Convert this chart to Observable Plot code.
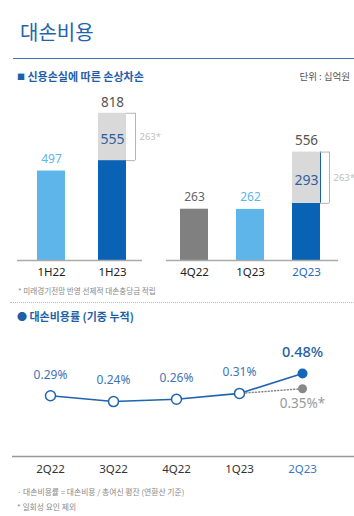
<!DOCTYPE html>
<html>
<head>
<meta charset="utf-8">
<script src="https://cdn.jsdelivr.net/npm/d3@7"></script>
<script src="https://cdn.jsdelivr.net/npm/@observablehq/plot@0.6"></script>
<style>
  html, body { margin: 0; padding: 0; background: #fff; }
  #root { position: relative; width: 354px; height: 516px; overflow: hidden; font-family: "Noto Sans CJK KR", "Noto Sans", sans-serif; }
  .abs { position: absolute; white-space: nowrap; }
  svg { overflow: visible; }
</style>
</head>
<body>
<div id="root">
  <div class="abs" style="left:20px; top:20px; font-size:20px; line-height:24px; color:#1f63ae;">대손비용</div>
  <div class="abs" style="left:13px; top:58px; width:341px; height:1px; background:#3a76bb;"></div>
  <div class="abs" style="left:17px; top:69px; font-size:11px; line-height:14px; font-weight:700; color:#1f5fa8;"><span style="font-size:8px; vertical-align:1px;">■</span> 신용손실에 따른 손상차손</div>
  <div class="abs" style="right:4px; top:70px; font-size:9.5px; line-height:12px; color:#555;">단위 : 십억원</div>
  <div class="abs" style="left:18px; top:286px; font-size:7.6px; line-height:10px; color:#888;">* 미래경기전망 반영 선제적 대손충당금 적립</div>
  <div class="abs" style="left:10px; top:302px; width:344px; height:0; border-top:1px dotted #bbb;"></div>
  <div class="abs" style="left:17px; top:309px; font-size:11px; line-height:14px; font-weight:700; color:#1f5fa8;"><span style="font-size:10px;">●</span> 대손비용률 (기중 누적)</div>
  <div class="abs" style="left:17px; top:487px; font-size:7.8px; line-height:10px; color:#888;">· 대손비용률 = 대손비용 / 총여신 평잔 (연환산 기준)</div>
  <div class="abs" style="left:17px; top:502px; font-size:7.8px; line-height:10px; color:#888;">* 일회성 요인 제외</div>
  <div id="barsL" class="abs" style="left:0px; top:89px;"></div>
  <div id="barsR" class="abs" style="left:155px; top:89px;"></div>
  <div id="line" class="abs" style="left:0px; top:330px;"></div>
</div>
<script>
// ---- data ----
const halfCats = ["1H22", "1H23"];
const halfBase = [497, 555];
const halfExtra = [0, 263];
const qCats = ["4Q22", "1Q23", "2Q23"];
const qBase = [263, 262, 293];
const qExtra = [0, 0, 263];
const rateCats = ["2Q22", "3Q22", "4Q22", "1Q23", "2Q23"];
const rateValues = [0.29, 0.24, 0.26, 0.31, 0.48];
const rateAdjusted = 0.35;

// ---- styles ----
const DARK = "#0a62b4", LIGHT = "#5db5ea", GRAY = "#808080", STACK = "#d9d9d9";
const halfColors = [LIGHT, DARK];
const qColors = [GRAY, LIGHT, DARK];
const labelColors = {[LIGHT]: "#5db5ea", [DARK]: "#2d5f9e", [GRAY]: "#666"};
const FONT = "Noto Sans, Noto Sans CJK KR, sans-serif";

function makeBars(cats, base, extra, colors, o) {
  const rows = cats.map((c, i) => ({cat: c, base: base[i], extra: extra[i], total: base[i] + extra[i], color: colors[i]}));
  const stacked = rows.filter(d => d.extra > 0);
  const single = rows.filter(d => d.extra === 0);
  const hl = o.highlight;
  const marks = [
    Plot.barY(rows, {x: "cat", y1: 0, y2: "base", fill: "color"}),
    Plot.barY(stacked, {x: "cat", y1: "base", y2: "total", fill: STACK}),
    Plot.ruleY([0], {stroke: "#aaa", strokeWidth: 1.5}),
    Plot.text(single, {x: "cat", y: "base", text: d => String(d.base), dy: -12, fill: d => labelColors[d.color], fontSize: 12}),
    Plot.text(stacked, {x: "cat", y: "total", text: d => String(d.total), dy: -11, fill: "#555", fontSize: 13.5}),
    Plot.text(stacked, {x: "cat", y: d => (d.base + d.total) / 2, text: d => String(d.base), dy: 3, fill: "#2d5f9e", fontSize: 14}),
    Plot.ruleX(stacked, {x: "cat", y1: "base", y2: "total", dx: 23, stroke: "#b5b5b5"}),
    Plot.tickY(stacked, {x: "cat", y: "base", dx: 9, insetLeft: 19, stroke: "#b5b5b5"}),
    Plot.tickY(stacked, {x: "cat", y: "total", dx: 9, insetLeft: 19, stroke: "#b5b5b5"}),
    Plot.text(stacked, {x: "cat", y: d => (d.base + d.total) / 2, text: d => d.extra + "*", dx: 27, textAnchor: "start", fill: "#c0c0c0", fontSize: 9.5}),
    Plot.text(cats.filter(c => c !== hl), {x: d => d, frameAnchor: "bottom", dy: 15, fill: "#222", fontSize: 11.5}),
    Plot.text(cats.filter(c => c === hl), {x: d => d, frameAnchor: "bottom", dy: 15, fill: "#2a6ab5", fontSize: 11.5})
  ];
  if (o.edge) marks.splice(2, 0, Plot.ruleX(stacked, {x: "cat", y1: "base", y2: "total", dx: 14, stroke: "#1a5fa8", strokeWidth: 1}));
  return Plot.plot({
    width: o.width, height: 196,
    marginLeft: o.ml, marginRight: o.mr, marginTop: 0, marginBottom: 25,
    style: {fontFamily: FONT, background: "transparent", overflow: "visible"},
    x: {type: "band", domain: cats, paddingInner: o.pi, paddingOuter: o.po, align: o.align, axis: null},
    y: {domain: [0, o.ymax], axis: null},
    color: {type: "identity"},
    marks
  });
}

document.getElementById("barsL").appendChild(makeBars(halfCats, halfBase, halfExtra, halfColors,
  {width: 155, ml: 17, mr: 13, pi: 0.541, po: 0.295, align: 0.556, ymax: 950, highlight: null}));
document.getElementById("barsR").appendChild(makeBars(qCats, qBase, qExtra, qColors,
  {width: 199, ml: 11, mr: 16, pi: 0.504, po: 0.274, align: 0.42, ymax: 877, highlight: "2Q23", edge: true}));

// ---- line chart ----
const rateRows = rateCats.map((c, i) => ({cat: c, v: rateValues[i]}));
const lastCat = rateCats[rateCats.length - 1];
const prevRow = rateRows[rateRows.length - 2];
const adjRows = [prevRow, {cat: lastCat, v: rateAdjusted}];
const BLUE = "#1f64b0";
const lineChart = Plot.plot({
  width: 354, height: 151,
  marginLeft: 12, marginRight: 0, marginTop: 29, marginBottom: 25,
  style: {fontFamily: FONT, background: "transparent", overflow: "visible"},
  x: {type: "point", domain: rateCats, padding: 0.714, align: 0.422, axis: null},
  y: {domain: [-0.23, 0.6], axis: null},
  marks: [
    Plot.ruleY([-0.23], {stroke: "#999", strokeWidth: 1.5}),
    Plot.line(adjRows, {x: "cat", y: "v", stroke: "#888", strokeWidth: 1.5, strokeDasharray: "1,2.2"}),
    Plot.line(rateRows, {x: "cat", y: "v", stroke: BLUE, strokeWidth: 1.6}),
    Plot.dot(rateRows.slice(0, -1), {x: "cat", y: "v", r: 5, fill: "#fff", stroke: BLUE, strokeWidth: 1.5}),
    Plot.dot(rateRows.slice(-1), {x: "cat", y: "v", r: 5, fill: "#1565b8"}),
    Plot.dot([adjRows[1]], {x: "cat", y: "v", r: 4.5, fill: "#888"}),
    Plot.text(rateRows.slice(0, -1), {x: "cat", y: "v", text: d => d.v.toFixed(2) + "%", dy: -21, fill: "#3f74b5", fontSize: 12}),
    Plot.text(rateRows.slice(-1), {x: "cat", y: "v", text: d => d.v.toFixed(2) + "%", dy: -21, fill: "#1f5fa8", fontSize: 14.5, fontWeight: 500}),
    Plot.text([adjRows[1]], {x: "cat", y: "v", text: d => d.v.toFixed(2) + "%*", dy: 15, fill: "#999", fontSize: 13.5}),
    Plot.text(rateCats.slice(0, -1), {x: d => d, frameAnchor: "bottom", dy: 16, fill: "#333", fontSize: 11.5}),
    Plot.text(rateCats.slice(-1), {x: d => d, frameAnchor: "bottom", dy: 16, fill: "#3a78c0", fontSize: 11.5})
  ]
});
document.getElementById("line").appendChild(lineChart);
</script>
</body>
</html>
